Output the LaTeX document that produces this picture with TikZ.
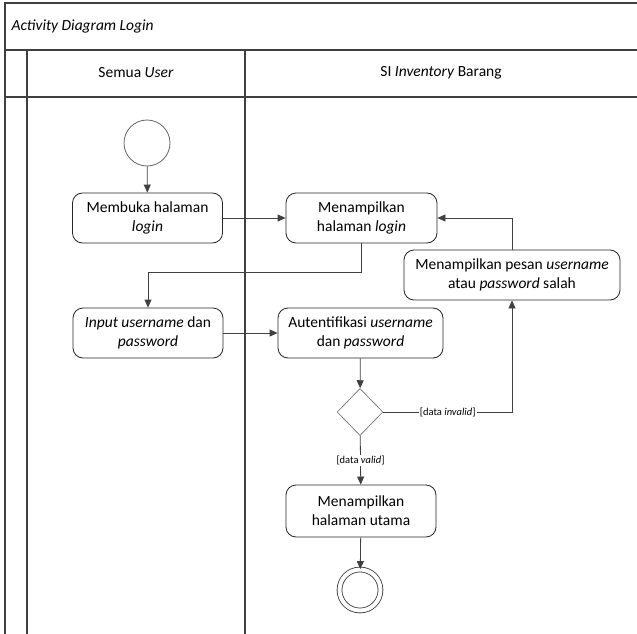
\documentclass[tikz,border=0pt]{standalone}
\usepackage{fontspec}
\setmainfont{Carlito}
\usetikzlibrary{shapes.geometric,arrows.meta}

\begin{document}
\begin{tikzpicture}[x=1pt,y=-1pt]
		\tikzstyle{lane}=[draw=black!75,line width=1.2pt]
		\tikzstyle{activity}=[draw=black!85,line width=0.8pt,rounded corners=10pt,minimum height=50pt,align=center,inner sep=2pt,font=\fontsize{15.5}{19}\selectfont]
		\tikzstyle{flow}=[draw=black!75,line width=0.8pt,-{Triangle[length=8pt,width=7pt]}]
		\tikzstyle{guard}=[fill=white,inner sep=1pt,font=\fontsize{10.5}{12}\selectfont]
		\tikzstyle{decision}=[diamond,draw=black!50,line width=0.8pt,minimum width=46pt,minimum height=47pt,inner sep=0pt]
		\tikzstyle{initial}=[circle,draw=black!60,line width=0.8pt,minimum size=46pt,inner sep=0pt]
		\tikzstyle{final}=[circle,draw=black!80,line width=0.8pt,double,double distance=4pt,minimum size=41pt,inner sep=0pt]
		\tikzstyle{head}=[font=\fontsize{15.5}{19}\selectfont]

		\useasboundingbox (0,0) rectangle (637,634);

			% Draw the swimlane frame
		\draw[lane] (5,634) -- (5,3) -- (637,3);
		\foreach \y in {50,97}
		\draw[lane] (5,\y) -- (637,\y);
		\foreach \x in {27,245}
		\draw[lane] (\x,50) -- (\x,634);

			% Title and lane headers
		\node[head,anchor=west] (title) at (8,26) {\textit{Activity Diagram Login}};
		\node[head] (lane-user) at (136,73) {Semua \textit{User}};
		\node[head] (lane-sys) at (441,73) {SI \textit{Inventory} Barang};

			% Draw the activity nodes
		\node[initial] (start) at (147,143) {};
		\node[activity,minimum width=150pt] (open) at (147.5,218) {Membuka halaman\\\textit{login}};
		\node[activity,minimum width=151pt] (show) at (361.5,218) {Menampilkan\\halaman \textit{login}};
		\node[activity,minimum width=216pt] (msg) at (512,275) {Menampilkan pesan \textit{username}\\atau \textit{password} salah};
		\node[activity,minimum width=150pt] (input) at (148,333) {\textit{Input username} dan\\\textit{password}};
		\node[activity,minimum width=165pt] (auth) at (360.5,333) {Autentifikasi \textit{username}\\dan \textit{password}};
		\node[decision] (check) at (360,412) {};
		\node[activity,minimum width=150pt,minimum height=52pt] (home) at (361,511) {Menampilkan\\halaman utama};
		\node[final] (end) at (360,590) {};

			% Connect the activities
		\draw[flow] (start) -- (open);
		\draw[flow] (open) -- (show);
		\draw[flow] (show.south) -- ++(0,29) -| (input);
		\draw[flow] (input) -- (auth);
		\draw[flow] (auth) -- (check);
		\draw[flow] (check.east) -| node[guard,pos=0.25] {[data \textit{invalid}]} (msg.south);
		\draw[flow] (msg.north) |- (show.east);
		\draw[flow] (check) -- node[guard] {[data \textit{valid}]} (home);
		\draw[flow] (home) -- (end);
\end{tikzpicture}
\end{document}
